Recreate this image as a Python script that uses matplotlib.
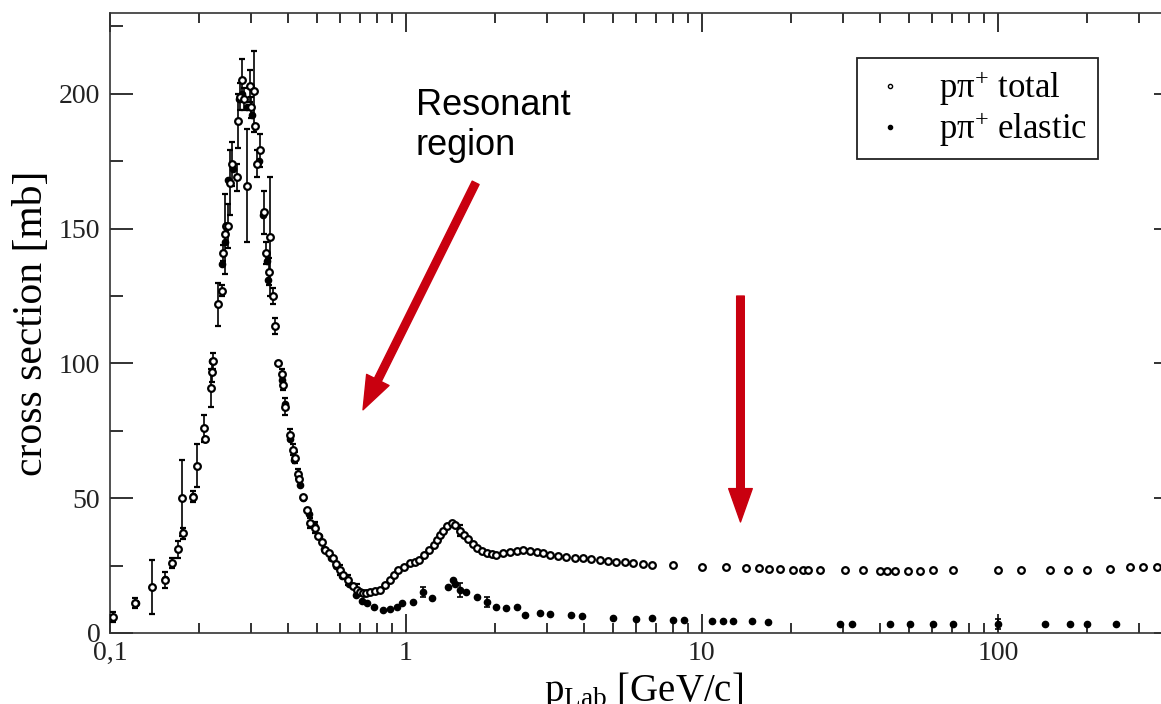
import numpy as np
import matplotlib
matplotlib.use("Agg")
import matplotlib.pyplot as plt
from matplotlib.patches import FancyArrowPatch, ArrowStyle
from matplotlib.lines import Line2D
from matplotlib.ticker import FixedLocator, FixedFormatter, LogLocator, NullFormatter, MultipleLocator

plt.rcParams['font.family'] = ['Liberation Serif', 'DejaVu Serif']
plt.rcParams['mathtext.fontset'] = 'custom'
plt.rcParams['mathtext.rm'] = 'Liberation Serif'
plt.rcParams['mathtext.it'] = 'Liberation Serif:italic'

# p pi+ total cross section: p_lab [GeV/c], sigma [mb], error [mb]
p_tot = [0.102, 0.1215, 0.139, 0.153, 0.162, 0.170, 0.175, 0.177, 0.191, 0.197,
         0.208, 0.209, 0.219, 0.221, 0.222, 0.232, 0.239, 0.241, 0.244, 0.246,
         0.250, 0.254, 0.258, 0.268, 0.270, 0.275, 0.279, 0.284, 0.290, 0.297,
         0.300, 0.306, 0.309, 0.314, 0.321, 0.331, 0.336, 0.345, 0.347, 0.355,
         0.361, 0.370, 0.381, 0.384, 0.390, 0.405, 0.416, 0.421, 0.432, 0.436,
         0.449, 0.463, 0.474, 0.493, 0.505, 0.520, 0.532, 0.550, 0.567, 0.580,
         0.598, 0.615, 0.636, 0.660, 0.681, 0.700, 0.717, 0.735, 0.755, 0.785,
         0.816, 0.850, 0.885, 0.910, 0.940, 0.985, 1.03, 1.07, 1.11, 1.15,
         1.20, 1.24, 1.27, 1.30, 1.33, 1.38, 1.43, 1.47, 1.52, 1.57,
         1.62, 1.68, 1.74, 1.81, 1.88, 1.95, 2.02, 2.13, 2.25, 2.37,
         2.49, 2.63, 2.77, 2.91, 3.06, 3.27, 3.48, 3.72, 3.96, 4.23,
         4.51, 4.82, 5.14, 5.48, 5.83, 6.3, 6.8, 7.97, 9.98, 12.1,
         14.1, 15.6, 16.9, 18.4, 20.3, 21.9, 22.8, 25.1, 30.4, 35.0,
         39.9, 42.2, 44.9, 49.6, 54.5, 60.3, 70.5, 100, 120, 150,
         172, 200, 239, 279, 309, 344]
s_tot = [5.9, 11.1, 17, 19.7, 26, 31, 50, 37, 50.5, 62,
         76, 72, 91, 97, 101, 122, 127, 141, 148, 151,
         151, 167, 174, 169, 190, 199, 205, 198, 166, 203,
         195, 201, 188, 174, 179, 156, 141, 134, 147, 125,
         114, 100, 96, 92, 84, 73.5, 68, 65, 59, 57,
         50.5, 45.7, 40.8, 39, 36, 33.8, 30.8, 29.5, 27.8, 25.5,
         23.4, 21.5, 19.7, 17.5, 16, 15.2, 14.8, 15, 15.2, 15.6,
         16, 17.8, 19.7, 21.5, 23.4, 24.5, 26, 26.5, 27, 29,
         30.8, 32.5, 34.5, 36.5, 38, 39.8, 40.8, 40, 38, 36.5,
         35, 33, 31.5, 30.3, 29.7, 29.2, 29, 29.5, 30, 30.5,
         30.8, 30.5, 30, 29.5, 29, 28.6, 28.2, 28, 27.8, 27.4,
         27, 26.7, 26.4, 26.2, 26, 25.6, 25.2, 25.2, 24.5, 24.5,
         24, 24, 23.8, 23.8, 23.4, 23.4, 23.4, 23.3, 23.2, 23.2,
         23.0, 23.0, 23.0, 23.0, 23.0, 23.2, 23.2, 23.2, 23.2, 23.3,
         23.3, 23.5, 23.8, 24.3, 24.3, 24.3]
e_tot = [2, 2, 10, 3, 2, 3, 14, 2, 2, 8,
         5, 0, 7, 4, 3, 8, 2, 3, 15, 0,
         8, 12, 8, 5, 10, 5, 8, 4, 21, 6,
         4, 15, 0, 5, 6, 8, 4, 5, 22, 3,
         3, 0, 2, 2, 3, 2, 2, 2, 2, 0,
         0, 0, 2, 2, 0, 0, 0, 0, 0, 0,
         2, 0, 2, 0, 2, 0, 0, 0, 0, 0,
         0, 0, 0, 0, 0, 0, 0, 0, 0, 0,
         0, 0, 0, 0, 0, 0, 0, 0, 2, 0,
         0, 0, 0, 0, 0, 0, 0, 0, 0, 0,
         0, 0, 0, 0, 0, 0, 0, 0, 0, 0,
         0, 0, 0, 0, 0, 0, 0, 0, 0, 0,
         0, 0, 0, 0, 0, 0, 0, 0, 0, 0,
         0, 0, 0, 0, 0, 0, 0, 0, 0, 0,
         0, 0, 0, 0, 0, 0]

# p pi+ elastic cross section
p_el = [0.122, 0.139, 0.153, 0.191, 0.209, 0.221, 0.239, 0.244, 0.250, 0.260,
        0.273, 0.280, 0.290, 0.303, 0.318, 0.328, 0.338, 0.342, 0.355, 0.370,
        0.380, 0.390, 0.405, 0.420, 0.440, 0.450, 0.470, 0.490, 0.510, 0.530,
        0.560, 0.580, 0.610, 0.640, 0.680, 0.710, 0.740, 0.780, 0.836, 0.880,
        0.930, 0.970, 1.06, 1.14, 1.22, 1.39, 1.44, 1.47, 1.52, 1.60,
        1.74, 1.88, 2.02, 2.18, 2.37, 2.53, 2.84, 3.06, 3.60, 3.94,
        5.0, 5.98, 6.8, 7.97, 8.7, 10.8, 11.8, 12.7, 14.8, 16.7,
        29.2, 32.1, 43.2, 50.5, 60.3, 70.5, 100, 144, 175, 200, 251]
s_el = [11, 17, 20, 51, 72, 101, 137, 145, 168, 172,
        198, 200, 195, 192, 175, 155, 138, 131, 125, 100,
        94, 85, 72, 64, 55, 50, 44, 40, 36, 31,
        28, 25, 21, 18, 14, 12, 11, 9.5, 8.5, 9,
        9.7, 11, 11.5, 15.2, 13, 17, 19.7, 18, 16, 15.2,
        13.4, 11.5, 9.7, 9.3, 9.7, 6.7, 7.4, 7, 6.7, 6.3,
        5.6, 5.2, 5.6, 4.8, 4.8, 4.5, 4.5, 4.5, 4.5, 4.1,
        3.3, 3.3, 3.3, 3.3, 3.3, 3.3, 3.3, 3.3, 3.3, 3.3, 3.3]
e_el = [0, 0, 0, 0, 0, 0, 0, 0, 0, 0,
        0, 0, 0, 0, 0, 0, 0, 0, 0, 0,
        0, 0, 0, 0, 0, 0, 0, 0, 0, 0,
        0, 0, 0, 0, 0, 0, 0, 0, 0, 0,
        0, 0, 0, 2, 0, 0, 0, 0, 2.5, 0,
        0, 2, 0, 0, 0, 0, 0, 0, 0, 0,
        0, 0, 0, 0, 0, 0, 0, 0, 0, 0,
        0, 0, 0, 0, 0, 0, 2, 0, 0, 0, 0]

W, H = 1161, 704
fig = plt.figure(figsize=(W / 100, H / 100), dpi=100)
ax = fig.add_axes([110 / W, (H - 633) / H, (1177 - 110) / W, (633 - 13) / H])

ax.errorbar(p_el, s_el, yerr=e_el, fmt='o', ms=4.5, mfc='black', mec='black',
            ecolor='black', elinewidth=1.2, capsize=2.5, capthick=1.2, zorder=3)
ax.errorbar(p_tot, s_tot, yerr=e_tot, fmt='o', ms=4.8, mfc='white', mec='black', mew=1.6,
            ecolor='black', elinewidth=1.2, capsize=2.5, capthick=1.2, zorder=4)

ax.set_xscale('log')
ax.set_xlim(0.1, 403)
ax.set_ylim(0, 230)

ax.xaxis.set_major_locator(FixedLocator([0.1, 1, 10, 100]))
ax.xaxis.set_major_formatter(FixedFormatter(['0,1', '1', '10', '100']))
ax.xaxis.set_minor_locator(LogLocator(base=10, subs=np.arange(2, 10)))
ax.xaxis.set_minor_formatter(NullFormatter())
ax.yaxis.set_major_locator(MultipleLocator(50))
ax.yaxis.set_minor_locator(MultipleLocator(25))

ax.tick_params(which='both', direction='in', top=True, right=True, width=1.3,
               labelsize=20, colors='#222222')
ax.tick_params(axis='x', which='major', length=14, pad=6)
ax.tick_params(axis='x', which='minor', length=7)
ax.tick_params(axis='y', which='major', length=16.5, pad=7)
ax.tick_params(axis='y', which='minor', length=9.4)
for sp in ax.spines.values():
    sp.set_linewidth(1.2)
    sp.set_color('#333333')

ax.set_xlabel(r'p$_{\mathrm{Lab}}$ [GeV/c]', fontsize=28)
ax.set_ylabel('cross section [mb]', fontsize=30)
ax.xaxis.set_label_coords(0.5, -0.06)
ax.yaxis.set_label_coords(-0.055, 0.5)

handles = [Line2D([], [], ls='none', marker='o', ms=3, mfc='white', mec='black', mew=1.0),
           Line2D([], [], ls='none', marker='o', ms=3, mfc='black', mec='black')]
labels = ['pπ$^{+}$ total', 'pπ$^{+}$ elastic']
leg = ax.legend(handles, labels, loc='upper right', bbox_to_anchor=(0.926, 0.927),
                borderaxespad=0, fontsize=25, frameon=True, fancybox=False,
                edgecolor='#222222', framealpha=1, handlelength=1.33,
                handletextpad=0.75, labelspacing=0.05, borderpad=0.3)
leg.get_frame().set_linewidth(1.3)

red = '#c9000f'
arr1 = FancyArrowPatch((1.72, 167), (0.716, 82.8),
                       arrowstyle=ArrowStyle.Simple(head_length=24, head_width=18, tail_width=5.5),
                       mutation_scale=1, shrinkA=0, shrinkB=0, color=red, zorder=5)
arr2 = FancyArrowPatch((13.5, 125), (13.5, 41.2),
                       arrowstyle=ArrowStyle.Simple(head_length=24, head_width=17, tail_width=5.5),
                       mutation_scale=1, shrinkA=0, shrinkB=0, color=red, zorder=5)
ax.add_patch(arr1)
ax.add_patch(arr2)

fig.text(416 / W, 1 - 88 / H, 'Resonant\nregion', ha='left', va='top',
         fontsize=26, family='Liberation Sans', color='black')

fig.savefig('out.png', dpi=100)
